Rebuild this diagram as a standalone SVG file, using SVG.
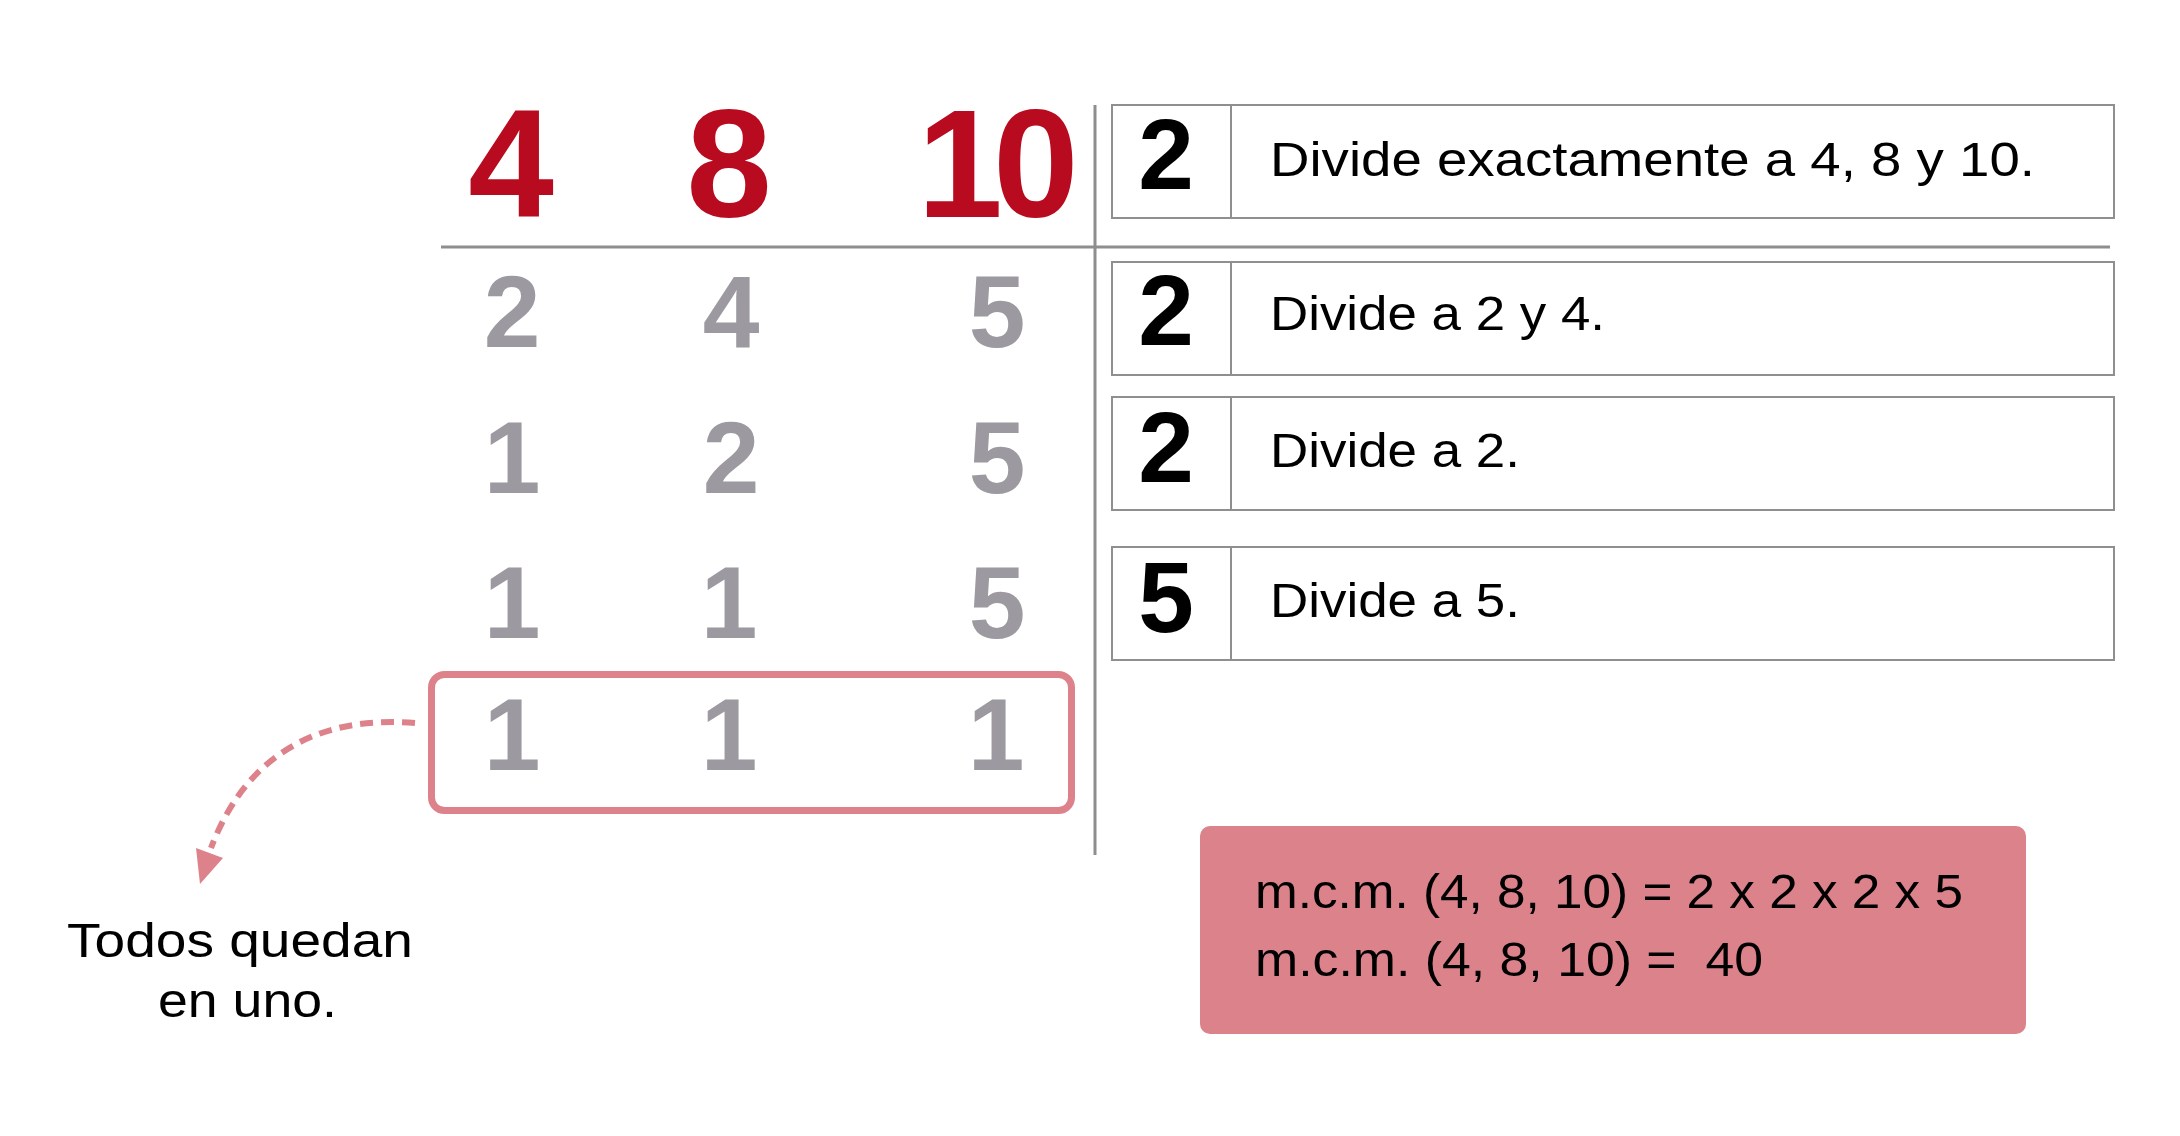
<svg xmlns="http://www.w3.org/2000/svg" width="2180" height="1136" viewBox="0 0 2180 1136">
<style>
.red{font-family:"Liberation Sans",Arial,sans-serif;font-weight:bold;font-size:154px;fill:#b90b1f;text-anchor:middle}
.gray{font-family:"Liberation Sans",Arial,sans-serif;font-weight:bold;font-size:102px;fill:#9c9aa0;text-anchor:middle}
.div{font-family:"Liberation Sans",Arial,sans-serif;font-weight:bold;font-size:100px;fill:#000;text-anchor:middle}
.lbl{font-family:"Liberation Sans",Arial,sans-serif;font-size:49px;fill:#000}
.box{fill:#fff;stroke:#8f8f8f;stroke-width:2}
.rule{stroke:#8e8e8e;stroke-width:3;fill:none}
</style>
<rect width="2180" height="1136" fill="#fff"/>
<g id="grid">
<line class="rule" x1="441" y1="247" x2="2110" y2="247"/>
<line class="rule" x1="1095" y1="105" x2="1095" y2="855"/>
</g>
<g id="numbers">
<text class="red" x="511" y="217">4</text>
<text class="red" x="729" y="217">8</text>
<text class="red" x="993" y="217" letter-spacing="-10">10</text>
<text class="gray" x="512" y="347">2</text>
<text class="gray" x="731" y="347">4</text>
<text class="gray" x="997" y="347">5</text>
<text class="gray" x="512" y="493">1</text>
<text class="gray" x="731" y="493">2</text>
<text class="gray" x="997" y="493">5</text>
<text class="gray" x="512" y="638">1</text>
<text class="gray" x="729" y="638">1</text>
<text class="gray" x="997" y="638">5</text>
<text class="gray" x="512" y="770">1</text>
<text class="gray" x="729" y="770">1</text>
<text class="gray" x="996" y="770">1</text>
</g>
<g id="ones-box">
<rect x="431.5" y="674.5" width="640" height="136" rx="13" fill="none" stroke="#dd828b" stroke-width="7"/>
</g>
<g id="step1">
<rect class="box" x="1112" y="105" width="1002" height="113"/>
<line class="box" x1="1231" y1="105" x2="1231" y2="218"/>
<text class="div" x="1166" y="189">2</text>
<text class="lbl" x="1270" y="176" textLength="765" lengthAdjust="spacingAndGlyphs">Divide exactamente a 4, 8 y 10.</text>
</g>
<g id="step2">
<rect class="box" x="1112" y="262" width="1002" height="113"/>
<line class="box" x1="1231" y1="262" x2="1231" y2="375"/>
<text class="div" x="1166" y="345">2</text>
<text class="lbl" x="1270" y="330" textLength="335" lengthAdjust="spacingAndGlyphs">Divide a 2 y 4.</text>
</g>
<g id="step3">
<rect class="box" x="1112" y="397" width="1002" height="113"/>
<line class="box" x1="1231" y1="397" x2="1231" y2="510"/>
<text class="div" x="1166" y="482">2</text>
<text class="lbl" x="1270" y="467" textLength="250" lengthAdjust="spacingAndGlyphs">Divide a 2.</text>
</g>
<g id="step4">
<rect class="box" x="1112" y="547" width="1002" height="113"/>
<line class="box" x1="1231" y1="547" x2="1231" y2="660"/>
<text class="div" x="1166" y="632">5</text>
<text class="lbl" x="1270" y="617" textLength="250" lengthAdjust="spacingAndGlyphs">Divide a 5.</text>
</g>
<g id="result">
<rect x="1200" y="826" width="826" height="208" rx="10" fill="#dc828b"/>
<text class="lbl" x="1255" y="908" textLength="708" lengthAdjust="spacingAndGlyphs">m.c.m. (4, 8, 10) = 2 x 2 x 2 x 5</text>
<text class="lbl" x="1255" y="976" textLength="508" lengthAdjust="spacingAndGlyphs" xml:space="preserve">m.c.m. (4, 8, 10) =  40</text>
</g>
<g id="note">
<text class="lbl" x="67" y="957" textLength="346" lengthAdjust="spacingAndGlyphs">Todos quedan</text>
<text class="lbl" x="158" y="1017" textLength="179" lengthAdjust="spacingAndGlyphs">en uno.</text>
</g>
<g id="connectors">
<path d="M415,723 C330,716 250,745 211,848" fill="none" stroke="#dd828b" stroke-width="6" stroke-dasharray="13 8"/>
<polygon points="196,848 223,858 200,884" fill="#dd828b"/>
</g>
</svg>
